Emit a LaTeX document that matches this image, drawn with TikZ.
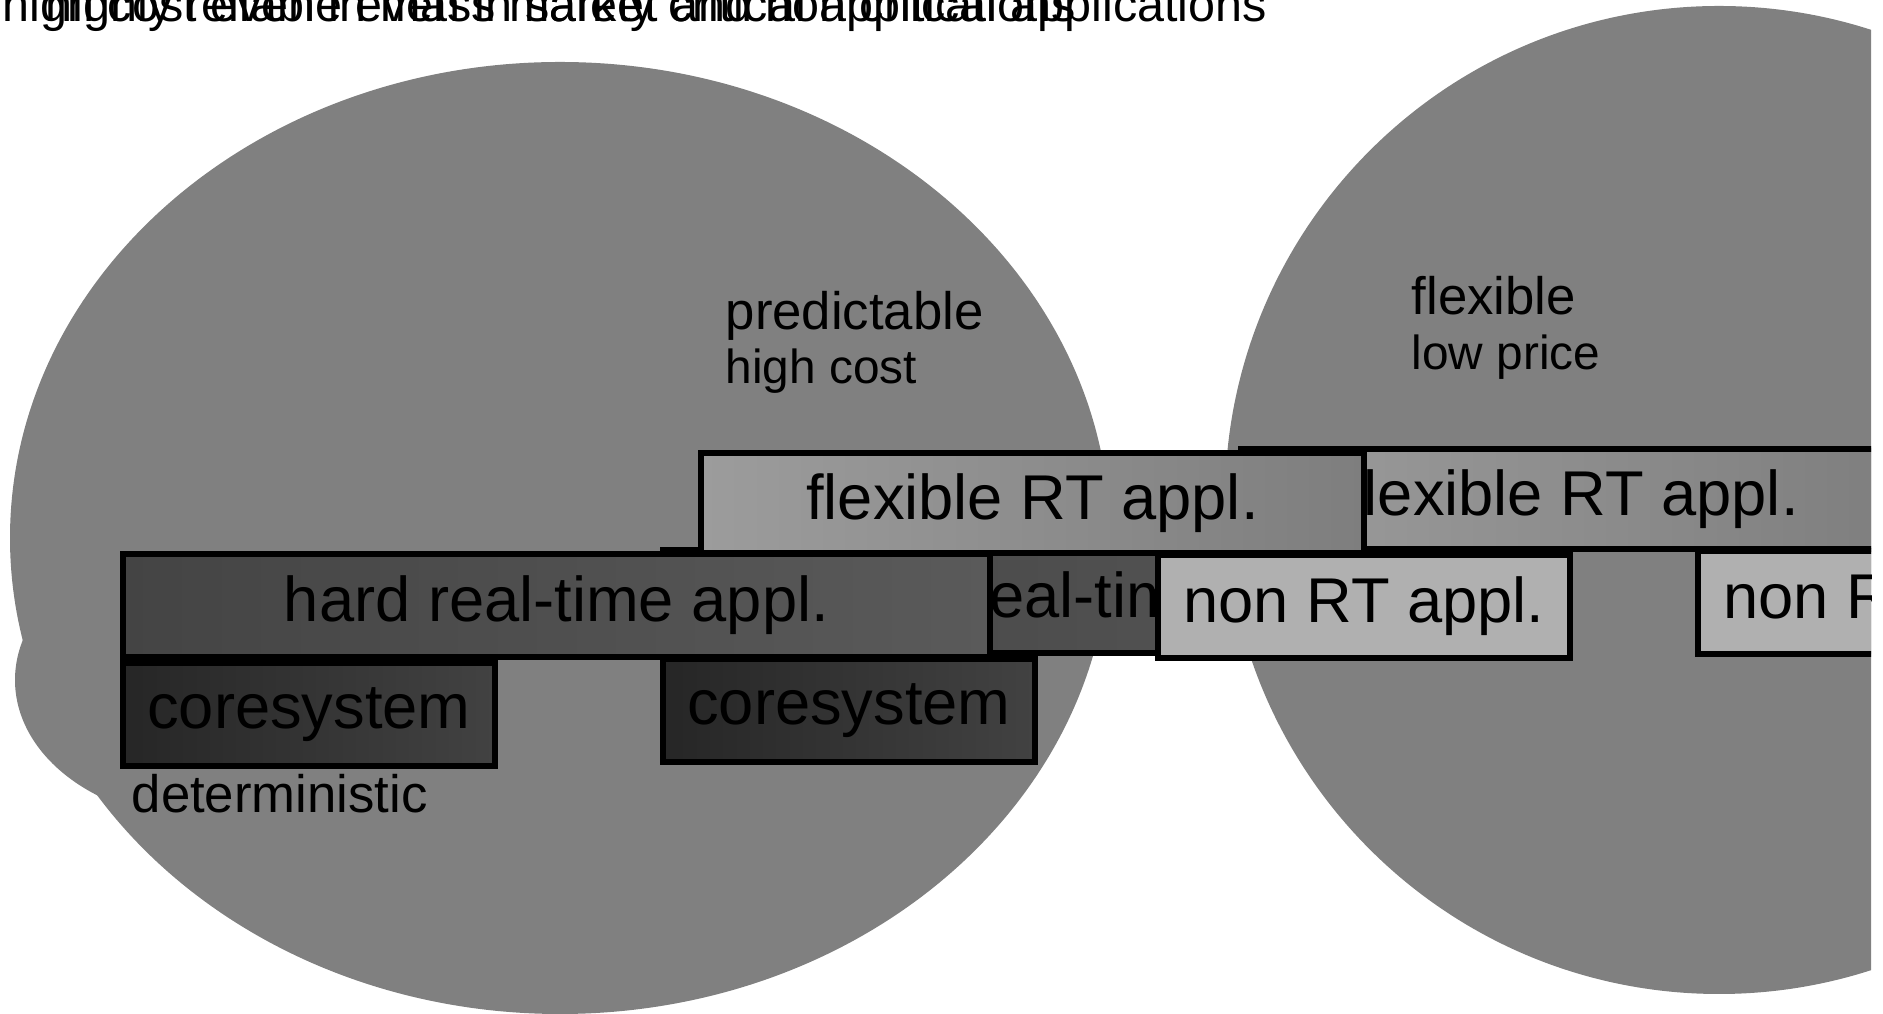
\documentclass[tikz,border=0pt]{standalone}
\usepackage{fontspec}
\setmainfont{Liberation Sans}
\usetikzlibrary{positioning}
\definecolor{blobgray}{RGB}{128,128,128}
\definecolor{flexlight}{RGB}{156,156,156}
\definecolor{flexdark}{RGB}{126,126,126}
\definecolor{hardlight}{RGB}{90,90,90}
\definecolor{harddark}{RGB}{68,68,68}
\definecolor{corelight}{RGB}{66,66,66}
\definecolor{coredark}{RGB}{38,38,38}
\definecolor{nongray}{RGB}{176,176,176}
\begin{document}
\begin{tikzpicture}[
  blob/.style={fill=blobgray, draw=none},
  appbox/.style={draw, line width=1.7pt, inner sep=0pt, anchor=north west, minimum height=1.03cm, font=\fontsize{18}{20}\selectfont},
  flexbox/.style={appbox, minimum width=6.63cm, minimum height=1cm, left color=flexlight, right color=flexdark},
  hardbox/.style={appbox, minimum width=8.67cm, left color=harddark, right color=hardlight},
  corebox/.style={appbox, minimum width=3.72cm, left color=coredark, right color=corelight},
  nonbox/.style={appbox, minimum width=4.12cm, fill=nongray},
  note/.style={anchor=base west, inner sep=0pt, font=\fontsize{15}{18}\selectfont},
  subnote/.style={note, font=\fontsize{13.6}{16}\selectfont},
  headline/.style={anchor=base west, inner sep=0pt, font=\fontsize{13.8}{16}\selectfont}
]
\useasboundingbox (0,0) rectangle (18.83,10.14);
\clip (0,0) rectangle (18.71,10.14);
\fill[blob] (5.60,4.76) ellipse [x radius=5.50, y radius=4.76];
\fill[blob] (2.05,3.34) ellipse [x radius=1.90, y radius=1.40];
\fill[blob] (17.19,5.14) circle [radius=4.94];
\begin{scope}[shift={(5.40,0.04)}]
\node[flexbox] (flex2) at (6.98,5.64) {flexible RT appl.};
\node[hardbox] (hard2) at (1.20,4.63) {hard real-time appl.};
\node[corebox, below=0pt of hard2.south west, anchor=north west] (core2) {coresystem};
\node[nonbox] (non2) at (11.55,4.62) {non RT appl.};
\end{scope}
\node[hardbox] (hard) at (1.20,4.63) {hard real-time appl.};
\node[corebox, below=0pt of hard.south west, anchor=north west] (core) {coresystem};
\node[flexbox] (flex) at (6.98,5.64) {flexible RT appl.};
\node[nonbox] (non) at (11.55,4.62) {non RT appl.};
\node[note] (predictable) at (7.25,6.84) {predictable};
\node[subnote] (highcost) at (7.25,6.30) {high cost};
\node[note] (flexible) at (14.11,6.99) {flexible};
\node[subnote] (lowprice) at (14.11,6.44) {low price};
\node[note] (deterministic) at (1.31,2.01) {deterministic};
\node[headline] (titleA) at (0.02,9.92) {high cost even in mass market and non critical applications};
\node[headline] (titleB) at (0.45,9.92) {highly reliable even in safety critical applications};
\end{tikzpicture}
\end{document}
